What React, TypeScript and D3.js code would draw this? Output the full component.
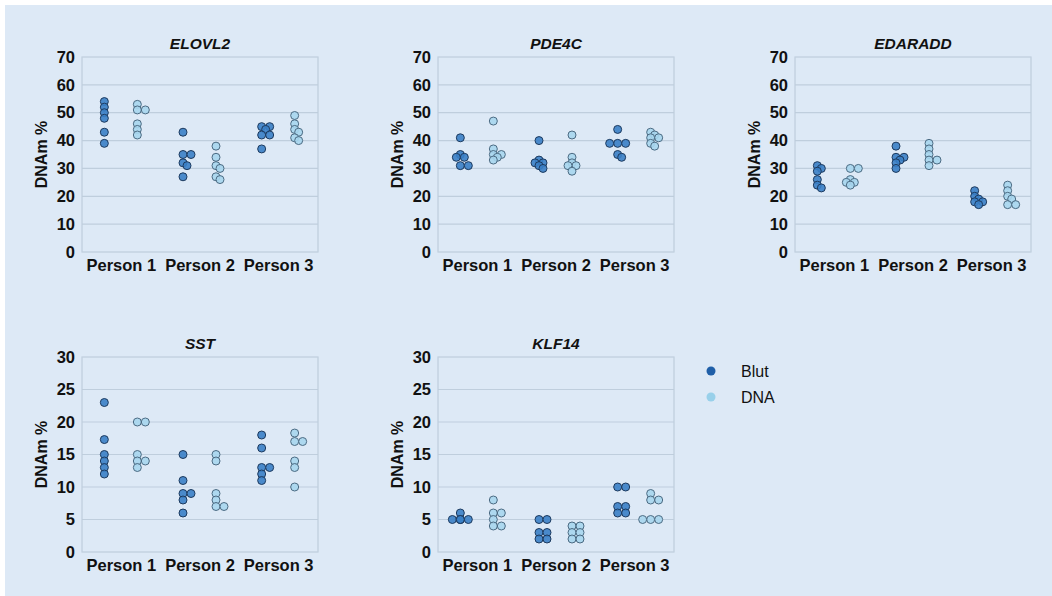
import React from 'react';
import * as d3 from 'd3';

// values, per person: [Person 1, Person 2, Person 3]
const persons = ['Person 1', 'Person 2', 'Person 3'];
const genes = ['ELOVL2', 'PDE4C', 'EDARADD', 'SST', 'KLF14'];
const yMaxes = [70, 70, 70, 30, 30];
const yTicks70 = [0, 10, 20, 30, 40, 50, 60, 70];
const yTicks30 = [0, 5, 10, 15, 20, 25, 30];

const elovl2Blut = [[54, 52, 50, 48, 43, 39], [43, 35, 35, 32, 31, 27], [45, 45, 44, 42, 42, 37]];
const elovl2Dna = [[53, 51, 51, 46, 44, 42], [38, 34, 31, 30, 27, 26], [49, 46, 44, 43, 41, 40]];
const pde4cBlut = [[41, 35, 34, 34, 31, 31], [40, 33, 32, 32, 31, 30], [44, 39, 39, 39, 35, 34]];
const pde4cDna = [[47, 37, 35, 35, 34, 33], [42, 34, 32, 31, 31, 29], [43, 42, 41, 41, 39, 38]];
const edaraddBlut = [[31, 30, 29, 26, 24, 23], [38, 34, 34, 33, 32, 30], [22, 20, 19, 18, 18, 17]];
const edaraddDna = [[30, 30, 26, 25, 25, 24], [39, 37, 35, 33, 33, 31], [24, 22, 20, 19, 17, 17]];
const sstBlut = [[23, 17.3, 15, 14, 13, 12], [15, 11, 9, 9, 8, 6], [18, 16, 13, 13, 12, 11]];
const sstDna = [[20, 20, 15, 14, 14, 13], [15, 14, 9, 8, 7, 7], [18.3, 17, 17, 14, 13, 10]];
const klf14Blut = [[6, 5, 5, 5, 5, 5], [5, 5, 3, 3, 2, 2], [10, 10, 7, 7, 6, 6]];
const klf14Dna = [[8, 6, 6, 5, 4, 4], [4, 4, 3, 3, 2, 2], [9, 8, 8, 5, 5, 5]];

const blutSeries = [elovl2Blut, pde4cBlut, edaraddBlut, sstBlut, klf14Blut];
const dnaSeries = [elovl2Dna, pde4cDna, edaraddDna, sstDna, klf14Dna];

const sampleTypes = ['Blut', 'DNA'];
const fills = ['#3a7fc6', '#a7d6ee'];
const strokes = ['#1d3a5e', '#4b6a82'];
const legendFills = ['#1f5fa8', '#98d0ea'];

const BG = '#dde9f6';
const GRID = '#bfcedd';
const FONT = '"Liberation Sans", Arial, sans-serif';

// panel slots on the page
const panelLefts = [82, 438, 795, 82, 438];
const panelTops = [57, 57, 57, 357, 357];
const plotW = 236;
const plotH = 195;
const R = 4;

// small dodge so equal values sit side by side, overlapping a little
function swarm(ys: number[], cx: number) {
  const placed: { x: number; y: number }[] = [];
  const steps = [0, 4, -4, 8, -8, 11, -11];
  ys.forEach(y => {
    let x = cx;
    for (const s of steps) {
      const ok = placed.every(p => Math.hypot(p.x - (cx + s), p.y - y) >= 4.5);
      if (ok) { x = cx + s; break; }
    }
    placed.push({ x, y });
  });
  return placed;
}

function Panel({ idx }: { idx: number }) {
  const left = panelLefts[idx];
  const top = panelTops[idx];
  const yMax = yMaxes[idx];
  const ticks = yMax === 70 ? yTicks70 : yTicks30;

  const x = d3.scaleBand().domain(persons).range([left, left + plotW]);
  const sub = d3.scalePoint().domain(sampleTypes).range([-17, 16]);
  const y = d3.scaleLinear().domain([0, yMax]).range([top + plotH, top]);

  const series = [blutSeries[idx], dnaSeries[idx]];

  return (
    <g>
      {ticks.slice(1, -1).map(t => (
        <line key={t} x1={left} x2={left + plotW} y1={y(t)} y2={y(t)} stroke={GRID} strokeWidth={1.2} />
      ))}
      <rect x={left} y={top} width={plotW} height={plotH} fill="none" stroke={GRID} strokeWidth={1.2} />
      {ticks.map(t => (
        <text key={t} x={left - 7} y={y(t)} dy="0.35em" textAnchor="end" fontFamily={FONT}
          fontWeight="bold" fontSize={16.5} fill="#111">{t}</text>
      ))}
      {persons.map(p => (
        <text key={p} x={(x(p) as number) + x.bandwidth() / 2} y={top + plotH + 19} textAnchor="middle"
          fontFamily={FONT} fontWeight="bold" fontSize={16.5} fill="#111">{p}</text>
      ))}
      <text x={left + plotW / 2} y={top - 8} textAnchor="middle" fontFamily={FONT} fontWeight="bold"
        fontStyle="italic" fontSize={15.5} fill="#111">{genes[idx]}</text>
      <text transform={`translate(${left - 35},${top + plotH / 2}) rotate(-90)`} textAnchor="middle"
        fontFamily={FONT} fontWeight="bold" fontSize={16} fill="#111">DNAm %</text>
      {series.map((s, si) =>
        s.map((vals, pi) => {
          const cx = (x(persons[pi]) as number) + x.bandwidth() / 2 + (sub(sampleTypes[si]) as number);
          return swarm(vals.map(v => y(v)), cx).map((pt, k) => (
            <circle key={`${si}-${pi}-${k}`} cx={pt.x} cy={pt.y} r={R} fill={fills[si]}
              fillOpacity={0.9} stroke={strokes[si]} strokeWidth={1} />
          ));
        })
      )}
    </g>
  );
}

export default function App() {
  return (
    <svg width={1052} height={596} style={{ position: 'absolute', left: 0, top: 0 }}>
      <rect x={0} y={0} width={1052} height={596} fill="#fff" />
      <rect x={5} y={5} width={1047} height={591} fill={BG} />
      {genes.map((g, i) => <Panel key={g} idx={i} />)}
      {sampleTypes.map((t, i) => (
        <g key={t}>
          <circle cx={711} cy={371 + i * 26} r={4.5} fill={legendFills[i]} />
          <text x={741} y={371 + i * 26} dy="0.35em" fontFamily={FONT} fontSize={16} fill="#111">{t}</text>
        </g>
      ))}
    </svg>
  );
}
